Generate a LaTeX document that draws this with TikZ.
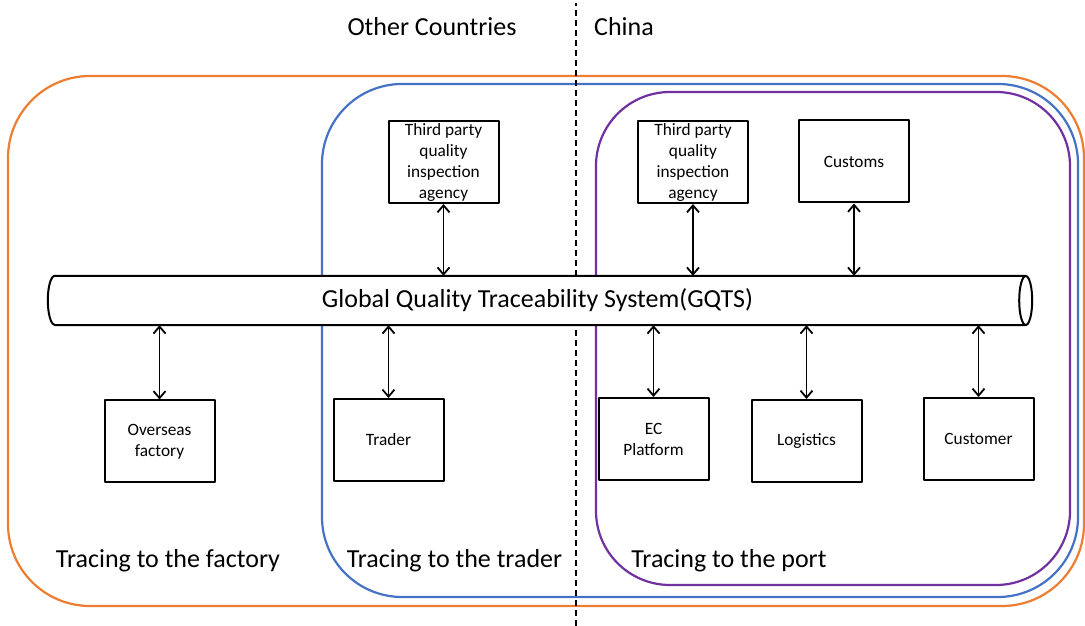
\documentclass[tikz,border=0pt]{standalone}
\usepackage{fontspec}
\setmainfont{Carlito}
\usetikzlibrary{arrows.meta}
\definecolor{factoryline}{RGB}{237,125,49}
\definecolor{traderline}{RGB}{68,114,196}
\definecolor{portline}{RGB}{112,48,160}
\begin{document}
\begin{tikzpicture}[x=1pt,y=1pt,font=\fontsize{26}{31}\selectfont,line join=round,line cap=round,>={Straight Barb[length=7pt,width=12pt]}]
	\tikzset{agent/.style={draw,fill=white,line width=2pt,minimum width=110pt,minimum height=82pt,inner sep=2pt,align=center,font=\fontsize{17.3}{21}\selectfont},
		link/.style={<->,line width=1.8pt},
		rangebox/.style={line width=2.2pt}}
	\useasboundingbox (0,0) rectangle (1085,626);
	\draw[rangebox,factoryline,rounded corners=82pt] (8,20) rectangle (1084,550);
	\draw[rangebox,traderline,rounded corners=80pt] (322,29) rectangle (1078,542);
	\draw[rangebox,portline,rounded corners=74pt] (596,41) rectangle (1070,534);
	\draw[line width=1.3pt,line cap=butt,dash pattern=on 6pt off 4pt] (576,0) -- (576,623);
	\node (other) at (432,599) {Other Countries};
	\node (china) at (624,599) {China};
	% the system pipe
	\node[minimum width=970.5pt,minimum height=49pt,inner sep=0pt] (gqts) at (540.25,325.5) {};
	\fill[white] (gqts.south west) -- (gqts.south east) arc[start angle=-90,end angle=90,x radius=6.5,y radius=24.5] -- (gqts.north west) arc[start angle=90,end angle=270,x radius=7,y radius=24.5];
	\draw[line width=2pt] (gqts.south west) -- (gqts.south east) (gqts.north east) -- (gqts.north west) arc[start angle=90,end angle=270,x radius=7,y radius=24.5];
	\draw[line width=2pt] (gqts.east) ellipse[x radius=6.5,y radius=24.5];
	\node at (537.5,325.5) {Global Quality Traceability System(GQTS)};
	\node[agent] (tpa1) at (443.5,464) {Third party\\quality\\inspection\\agency};
	\node[agent] (tpa2) at (693,464) {Third party\\quality\\inspection\\agency};
	\node[agent] (customs) at (854,464.5) {Customs};
	\node[agent] (factory) at (159.5,184.5) {Overseas\\factory};
	\node[agent] (trader) at (388.5,186) {Trader};
	\node[agent] (ec) at (653.5,187) {EC\\Platform};
	\node[agent] (logistics) at (806.5,185) {Logistics};
	\node[agent] (customer) at (978.5,187) {Customer};
	\foreach \n in {tpa1,tpa2,customs}
		\draw[link] (\n) -- (\n |- gqts.north);
	\foreach \n in {factory,trader,ec,logistics,customer}
		\draw[link] (\n) -- (\n |- gqts.south);
	\node (tofactory) at (168,65) {Tracing to the factory};
	\node (totrader) at (454.5,65) {Tracing to the trader};
	\node (toport) at (729,65) {Tracing to the port};
\end{tikzpicture}
\end{document}
